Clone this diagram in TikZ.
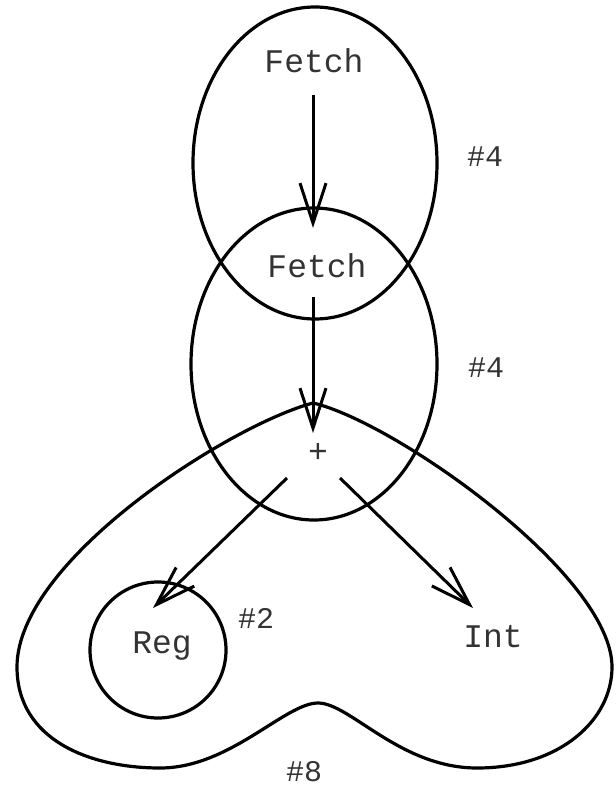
\documentclass[tikz,border=0pt]{standalone}
\usepackage{fontspec}
\setmonofont{Liberation Mono}
\usetikzlibrary{arrows.meta}
\tikzset{
  outline/.style={draw=black, line width=3.2pt},
  lbl/.style={font=\ttfamily\fontsize{33}{33}\selectfont, text=black!80, inner sep=0pt, anchor=base},
  cnt/.style={font=\ttfamily\fontsize{30}{30}\selectfont, text=black!80, inner sep=0pt, anchor=base},
  flow/.style={draw=black, line width=3pt, -{Straight Barb[length=40pt,width=26pt,line width=3pt]}}
}
\begin{document}
\begin{tikzpicture}[x=1pt,y=-1pt]
\useasboundingbox (0,0) rectangle (615,786);
% containers
\draw[outline] (315,163) ellipse [x radius=122pt, y radius=156pt];
\draw[outline] (314,364) ellipse [x radius=123pt, y radius=156pt];
\draw[outline] (313,403) .. controls (230,425) and (17,560) .. (17,667)
  .. controls (17,740) and (90,768) .. (160,768)
  .. controls (230,768) and (285,703) .. (318,703)
  .. controls (350,703) and (400,768) .. (477,768)
  .. controls (560,768) and (612,720) .. (612,667)
  .. controls (612,575) and (395,422) .. cycle;
\draw[outline] (158,650) circle [radius=68pt];
% labels
\node[lbl] (f1) at (314,73) {Fetch};
\node[lbl] (f2) at (317,277) {Fetch};
\node[lbl, anchor=center] (plus) at (318,453) {+};
\node[lbl] (reg) at (162,653) {Reg};
\node[lbl] (int) at (493,647) {Int};
\node[cnt] (n1) at (485,167) {\#4};
\node[cnt] (n2) at (486,377) {\#4};
\node[cnt] (n3) at (256,628) {\#2};
\node[cnt] (n4) at (304,781) {\#8};
% connector ends
\coordinate (a1s) at (313,95);
\coordinate (a1e) at (313,228);
\coordinate (a2s) at (313,297);
\coordinate (a2e) at (313,433);
\coordinate (a3s) at (287,478);
\coordinate (a3e) at (153,608);
\coordinate (a4s) at (340,478);
\coordinate (a4e) at (473,608);
\draw[flow] (a1s) -- (a1e);
\draw[flow] (a2s) -- (a2e);
\draw[flow] (a3s) -- (a3e);
\draw[flow] (a4s) -- (a4e);
\end{tikzpicture}
\end{document}
